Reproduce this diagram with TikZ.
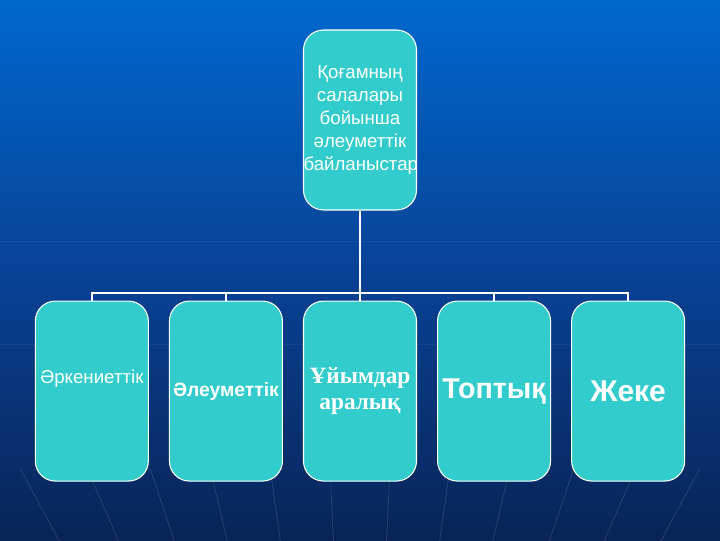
\documentclass[tikz,border=0pt]{standalone}
\usepackage{fontspec}
\setmainfont{Liberation Sans}
\newfontfamily\timesfont{Liberation Serif}
\definecolor{bgtop}{RGB}{0, 104, 206}
\definecolor{bgmid}{RGB}{8, 66, 150}
\definecolor{bgbot}{RGB}{8, 36, 86}
\definecolor{tealbox}{RGB}{51, 204, 204}
\usetikzlibrary{positioning}
\tikzset{
	branch/.style={rectangle, rounded corners=15pt, draw=white, fill=tealbox, line width=0.8pt, align=center, text=white, text width=84.75pt, inner xsep=0pt, minimum height=135pt},
	link/.style={draw=white, line width=1.5pt},
	ray/.style={draw=white, opacity=0.12, line width=0.6pt},
	faint/.style={draw=white, opacity=0.05, line width=0.6pt},
}

\begin{document}
\begin{tikzpicture}[x=0.75pt, y=-0.75pt, node distance=67.5pt and 15pt]
		\shade[top color=bgtop, bottom color=bgbot, middle color=bgmid] (0,0) rectangle (720,540);
		\useasboundingbox (0,0) rectangle (720,540);
		\draw[faint] (0,241) -- (720,241);
		\draw[faint] (0,344) -- (720,344);
		\begin{scope}
			\clip (0,468) rectangle (720,540);
			\foreach \x in {-60,20,87,150,210,270,330,390,450,510,574,636,700,780}
				\draw[ray] (360,1100) -- (\x,468);
		\end{scope}
		\node[branch, font=\fontsize{14}{17.3}\selectfont] (social) at (360,120) {Қоғамның\\салалары\\бойынша\\әлеуметтік\\байланыстар};
		\node[branch, below=of social, font=\fontsize{17.5}{19}\timesfont\bfseries] (interorg) {Ұйымдар\\аралық};
		\node[branch, left=of interorg, font=\fontsize{14.5}{17}\selectfont\bfseries] (societal) {Әлеуметтік};
		\node[branch, left=of societal, font=\fontsize{14}{17}\selectfont] (civil) {\raisebox{6pt}[0pt][0pt]{Әркениеттік}};
		\node[branch, right=of interorg, font=\fontsize{21.5}{24}\selectfont\bfseries] (group) {Топтық};
		\node[branch, right=of group, font=\fontsize{22.5}{25}\selectfont\bfseries] (personal) {Жеке};
		\coordinate[below=61.5pt of social.south] (bus);
		\draw[link] (social) -- (bus);
		\foreach \n in {civil, societal, interorg, group, personal}
			\draw[link] (bus) -| (\n.north);
	\end{tikzpicture}
\end{document}
